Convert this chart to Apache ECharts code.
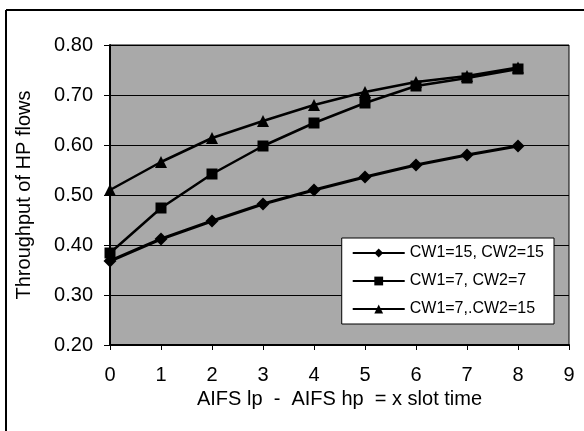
<!DOCTYPE html>
<html><head><meta charset="utf-8">
<script src="https://cdn.jsdelivr.net/npm/echarts@6/dist/echarts.min.js"></script>
<style>html,body{margin:0;padding:0;background:#fff}#c{width:584px;height:431px}</style>
</head><body><div id="c"></div>
<script>
const xCats = [0, 1, 2, 3, 4, 5, 6, 7, 8];
const seriesNames = ['CW1=15, CW2=15', 'CW1=7, CW2=7', 'CW1=7,.CW2=15'];
const cw15_15 = [0.368, 0.412, 0.448, 0.482, 0.510, 0.536, 0.560, 0.580, 0.598];
const cw7_7 = [0.384, 0.474, 0.542, 0.598, 0.644, 0.684, 0.718, 0.734, 0.752];
const cw7_15 = [0.510, 0.566, 0.614, 0.648, 0.680, 0.706, 0.726, 0.738, 0.755];
const yTitle = 'Throughput of HP flows';
const xTitle = 'AIFS lp  -  AIFS hp  = x slot time';

const font = 'Liberation Sans, Arial, sans-serif';
const chart = echarts.init(document.getElementById('c'));
function mk(name, data, symbol, size, width) {
  return {
    name, type: 'line', data: xCats.map((x, i) => [x, data[i]]),
    symbol, symbolSize: size, showSymbol: true,
    lineStyle: { color: '#000', width }, itemStyle: { color: '#000' },
    animation: false
  };
}
chart.setOption({
  animation: false,
  graphic: [
    { type: 'line', shape: { x1: 6, y1: 10, x2: 6, y2: 431 }, style: { stroke: '#000', lineWidth: 2 } },
    { type: 'line', shape: { x1: 6, y1: 10, x2: 584, y2: 10 }, style: { stroke: '#000', lineWidth: 2 } }
  ],
  grid: { left: 110, right: 15, top: 45, bottom: 86, show: true, backgroundColor: '#a9a9a9', borderColor: '#000', borderWidth: 1 },
  legend: {
    orient: 'vertical', right: 30, top: 238,
    backgroundColor: '#fff', borderColor: '#000', borderWidth: 1,
    padding: [7, 10, 7, 10], itemGap: 12, itemWidth: 52, itemHeight: 11,
    textStyle: { fontFamily: font, fontSize: 16, color: '#000' },
    data: seriesNames.map(n => ({ name: n, itemStyle: { color: '#000' } }))
  },
  xAxis: {
    type: 'value', min: 0, max: 9, interval: 1,
    name: xTitle, nameLocation: 'middle', nameGap: 44,
    nameTextStyle: { fontFamily: font, fontSize: 20, color: '#000' },
    axisLine: { lineStyle: { color: '#000', width: 2 } },
    axisTick: { show: true, length: 5, lineStyle: { color: '#000' } },
    axisLabel: { fontFamily: font, fontSize: 20, color: '#000', margin: 20 },
    splitLine: { show: false }
  },
  yAxis: {
    type: 'value', min: 0.2, max: 0.8, interval: 0.1,
    name: yTitle, nameLocation: 'middle', nameGap: 76, nameRotate: 90,
    nameTextStyle: { fontFamily: font, fontSize: 20, color: '#000' },
    axisLine: { show: true, lineStyle: { color: '#000', width: 2 } },
    axisTick: { show: true, length: 6, lineStyle: { color: '#000' } },
    axisLabel: { fontFamily: font, fontSize: 20, color: '#000', margin: 17, formatter: v => v.toFixed(2) },
    splitLine: { show: true, lineStyle: { color: '#000', width: 1 } }
  },
  series: [
    mk(seriesNames[0], cw15_15, 'diamond', 13, 3),
    mk(seriesNames[1], cw7_7, 'rect', 11, 2.5),
    mk(seriesNames[2], cw7_15, 'triangle', 12, 2.5)
  ]
});
</script></body></html>
